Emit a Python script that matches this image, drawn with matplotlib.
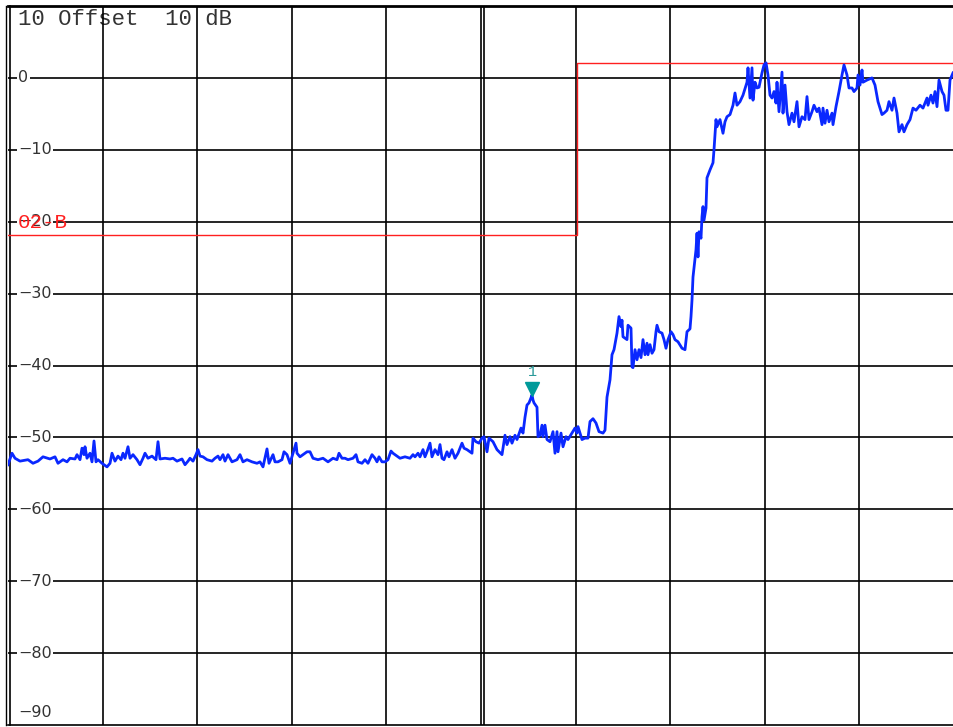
import numpy as np
import matplotlib
matplotlib.use("Agg")
from matplotlib import pyplot as plt

# sweep (trace point index) and level in dB
floor_pts = [0, 4, 7, 12, 20, 25, 30, 35, 42, 47, 50, 55, 59, 62, 67, 69, 72, 74, 76, 77,
             79, 82, 84, 86, 88, 90, 94, 99, 102, 104, 107, 110, 113, 115, 117, 120, 122,
             125, 129, 132, 135, 137, 140, 144, 148, 150, 152, 157, 162, 165, 169, 174, 177,
             180, 182, 185, 188, 190, 192, 195, 199, 204, 207, 210, 212, 215, 217, 220, 224,
             229, 232, 235, 239, 244, 249, 252, 255, 259, 261, 265, 267, 270, 274, 276, 279,
             282, 285, 288, 289, 292, 295, 299, 302, 305, 310, 315, 320, 325, 329, 331, 334,
             337, 340, 345, 348, 350, 354, 357, 360, 364, 367, 369, 371, 374, 377, 380, 383,
             385, 389, 392, 397, 402, 405, 407, 410, 412, 415, 417, 419, 422, 424, 427, 430,
             432, 434, 436, 439, 441, 444, 447, 450, 454, 456, 459, 464, 465, 468, 471, 474,
             476, 479, 481, 485, 489, 494, 497, 499, 502, 504, 507, 509, 513, 515]
floor_lvl = [-53.8, -52.2, -52.9, -53.3, -53.1, -53.6, -53.3, -52.7, -53.0, -52.7, -53.6,
             -53.1, -53.4, -52.9, -53.0, -52.4, -53.1, -51.5, -52.4, -51.3, -52.9, -52.2,
             -53.4, -50.5, -53.4, -53.1, -53.6, -54.1, -53.6, -52.2, -53.3, -52.6, -53.1,
             -52.2, -52.9, -51.3, -52.9, -52.4, -53.1, -53.8, -52.9, -52.2, -52.9, -52.6,
             -53.1, -50.6, -53.0, -52.9, -53.0, -52.9, -53.3, -53.0, -53.8, -53.3, -52.9,
             -53.3, -52.4, -51.7, -52.6, -52.7, -53.1, -53.3, -52.9, -52.6, -53.1, -52.4,
             -53.3, -52.4, -53.4, -53.1, -52.4, -53.4, -53.1, -53.4, -53.6, -53.4, -54.1,
             -51.6, -53.6, -52.4, -53.4, -53.4, -53.1, -52.0, -52.4, -53.6, -52.2, -50.8,
             -52.2, -52.7, -52.4, -52.0, -52.0, -52.9, -53.1, -52.9, -53.4, -52.9, -53.1,
             -52.2, -52.9, -52.9, -53.1, -52.9, -52.4, -53.4, -53.6, -53.1, -53.6, -52.4,
             -52.9, -53.4, -52.7, -53.4, -53.4, -53.1, -51.9, -52.2, -52.6, -52.9, -52.7,
             -52.9, -52.4, -52.7, -52.2, -52.7, -51.7, -52.7, -52.0, -50.8, -52.7, -51.7,
             -52.4, -51.0, -52.9, -53.1, -52.0, -52.7, -51.7, -52.9, -52.2, -50.8, -51.5,
             -51.7, -52.2, -50.1, -50.6, -50.8, -50.1, -49.9, -52.0, -50.1, -50.6, -51.7,
             -52.4, -49.7, -51.0, -49.9, -50.8, -49.7, -50.3, -48.7, -49.4]

# spur with marker 1 and the trace up to the first step
mid_pts = [517, 519, 521, 523, 524, 525, 526, 529, 530, 532, 534, 535, 537, 539, 542, 545,
           547, 549, 550, 553, 555, 558, 560, 564, 567, 569, 570, 574, 577, 580, 582, 585,
           588, 591, 595, 597, 599, 602, 604, 606, 609, 611, 613, 614, 615, 619, 620, 623,
           624, 625, 627, 629, 631, 633, 635, 637, 639, 640, 642, 644, 646, 648, 649, 651,
           654, 656, 658, 660, 663, 665, 667, 670, 674, 677, 679, 682, 683, 684, 685, 688,
           689, 690, 691, 693, 694, 695, 696, 698, 699, 702, 705, 706]
mid_lvl = [-47.2, -45.5, -45.2, -44.5, -44.1, -44.8, -45.2, -45.8, -49.9, -49.7, -48.3,
           -49.9, -48.3, -50.3, -50.6, -49.2, -52.2, -49.2, -52.0, -49.4, -51.3, -49.9,
           -50.3, -49.4, -48.7, -49.4, -48.5, -50.3, -50.1, -50.1, -47.8, -47.4, -48.0,
           -49.2, -49.4, -49.0, -44.4, -42.0, -38.5, -37.8, -35.5, -33.2, -34.6, -33.7,
           -36.0, -36.4, -34.4, -34.8, -40.2, -40.3, -37.8, -39.2, -37.8, -38.9, -36.4,
           -38.5, -36.9, -38.5, -37.1, -38.3, -37.8, -35.3, -34.4, -35.3, -35.5, -36.4,
           -37.6, -36.4, -35.3, -35.7, -36.4, -36.7, -37.6, -37.8, -35.3, -34.9, -33.2,
           -30.9, -27.7, -23.9, -21.6, -24.9, -21.4, -22.3, -19.3, -17.9, -19.8, -18.1,
           -13.9, -12.8, -11.8, -10.0]

# top plateau
top_pts = [707, 708, 709, 712, 715, 717, 719, 722, 725, 727, 729, 732, 735, 739, 740, 742,
           744, 745, 747, 749, 751, 754, 756, 758, 760, 762, 764, 766, 768, 769, 771, 774,
           775, 777, 779, 781, 784, 786, 789, 791, 794, 797, 799, 801, 804, 806, 809, 811,
           814, 815, 817, 819, 821, 824, 825, 828, 831, 834, 836, 839, 841, 844, 846, 849,
           850, 852, 854, 855, 859, 864, 867, 870, 874, 876, 879, 881, 884, 886, 889, 891,
           894, 896, 899, 902, 905, 908, 912, 915, 919, 920, 923, 925, 927, 929, 931, 934,
           936, 938, 940, 942, 945]
top_lvl = [-7.9, -5.8, -6.8, -5.8, -7.7, -6.1, -5.4, -5.1, -3.8, -2.1, -3.8, -3.3, -2.4,
           -0.6, 1.4, -2.8, 1.4, -3.1, -0.6, -1.4, -1.3, 0.7, 1.8, 2.1, 0.4, -2.4, -2.8,
           -1.9, -3.5, -0.6, -4.7, 0.8, -4.9, -1.0, -4.7, -6.5, -4.9, -6.1, -3.3, -6.8,
           -5.4, -5.8, -2.6, -5.8, -4.7, -3.8, -4.7, -4.2, -6.5, -4.2, -6.3, -4.5, -6.1,
           -4.9, -6.5, -4.0, -1.9, 0.4, 1.8, 0.4, -1.4, -1.4, -1.9, -1.4, 0.4, -1.0, 1.1,
           -0.6, -0.3, 0.0, -1.0, -3.3, -5.1, -4.9, -4.5, -3.3, -4.5, -2.8, -4.9, -7.5,
           -6.5, -7.5, -6.5, -5.8, -4.2, -4.5, -3.8, -4.2, -2.8, -3.8, -2.4, -3.5, -1.9,
           -4.0, -0.3, -1.9, -2.4, -4.5, -4.5, -0.3, 0.7]

# limit line (step)
limit_pts = [0, 569, 569, 946]
limit_lvl = [-21.8, -21.8, 2.1, 2.1]

marker_pt = 524
marker_lvl = -44.1

y_ticks = [0, -10, -20, -30, -40, -50, -60, -70, -80, -90]

pts = np.array(floor_pts + mid_pts + top_pts)
lvl = np.array(floor_lvl + mid_lvl + top_lvl)

fig = plt.figure(figsize=(9.54, 7.27), dpi=100)
ax = fig.add_axes([8 / 954, 2 / 727, 946 / 954, 719 / 727])
ax.set_xlim(0, 946)
ax.set_ylim(-90, 10)
ax.set_xticks([])
ax.set_yticks([])
for s in ax.spines.values():
    s.set_visible(False)

### graticule
for k in range(1, 10):
    ax.axvline(k * 94.6, color='black', lw=1.2, zorder=1.5)
ax.axvline(5 * 94.6 + 3, color='black', lw=1.2, zorder=1.5)  # double centre line
for v in range(-80, 10, 10):
    ax.axhline(v, color='black', lw=1.2, zorder=1.5)
ax.axhline(10, color='black', lw=2.0, zorder=1.5, clip_on=False)
ax.axhline(-90, color='black', lw=1.2, zorder=1.5, clip_on=False)
ax.axvline(-1.5, color='black', lw=1.0, zorder=1.5, clip_on=False)
ax.axvline(2, color='black', lw=1.2, zorder=1.5, clip_on=False)

### y labels inside the screen
for v in y_ticks:
    lab = '0' if v == 0 else '\u2212%d' % abs(v)
    yy = v if v > -90 else -88.2
    ax.text(10, yy, lab, ha='left', va='center', fontsize=11.5, color='#333333',
            family='DejaVu Sans', zorder=2,
            bbox=dict(facecolor='white', edgecolor='none', pad=1.0))

ax.text(10, 8.1, '10 Offset  10 dB', ha='left', va='center', fontsize=16,
        family='Liberation Mono', color='#333333', zorder=1)

### limit line and its label
ax.plot(limit_pts, limit_lvl, color='#ff2020', lw=1.0, zorder=3)
ax.text(10, -20.1, '02-B', ha='left', va='center', fontsize=15,
        family='Liberation Mono', color='#ff2020', zorder=6)

### trace
ax.plot(pts, lvl, color='#0a28ff', lw=2.0, zorder=4)

### marker 1
ax.plot([marker_pt], [marker_lvl + 0.9], marker='v', ms=10, color='#009a9a',
        mec='#009a9a', zorder=5)
ax.text(marker_pt + 1, marker_lvl + 3.2, '1', ha='center', va='center', fontsize=11,
        family='Liberation Mono', color='#2a9a9a', zorder=5)

fig.savefig('out.png', dpi=100)
